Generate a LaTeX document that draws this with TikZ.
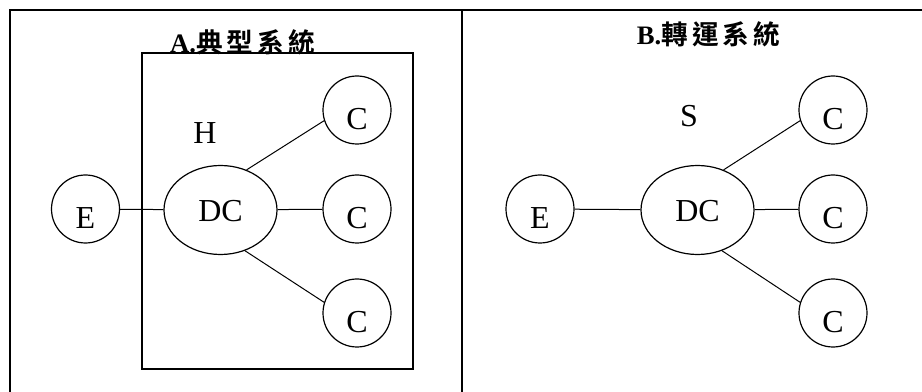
\documentclass[tikz,border=0pt]{standalone}
\usepackage{fontspec}
\setmainfont{Liberation Serif}
\newfontfamily\cjk{Noto Sans CJK TC}[BoldFont={Noto Sans CJK TC Bold},LetterSpace=15]
\usetikzlibrary{shapes.geometric,positioning}
\tikzset{
    site/.style={
           circle,
           draw=black,
           line width=0.9pt,
           minimum size=51pt,
           inner sep=0pt,
           text height=29pt,
           text depth=0pt,
           font=\fontsize{24}{24}\selectfont,
           },
    hub/.style={
           ellipse,
           draw=black,
           line width=0.9pt,
           minimum width=84.75pt,
           minimum height=66.75pt,
           inner sep=0pt,
           text height=16.8pt,
           text depth=0pt,
           font=\fontsize{24}{24}\selectfont,
           },
    tag/.style={anchor=base,inner sep=0pt,font=\fontsize{24}{24}\selectfont},
    heading/.style={anchor=base,inner sep=0pt,font=\fontsize{20}{20}\selectfont\bfseries},
}

\begin{document}
\begin{tikzpicture}[x=0.75pt,y=-0.75pt,line width=0.75pt]
\useasboundingbox (0,0) rectangle (922,392);
\draw[line width=1.5pt] (10,392) -- (10,10) -- (922,10);
\draw[line width=1.5pt] (462,10) -- (462,392);

\draw[line width=1pt] (142,53) rectangle (413,369);
\node[heading](typical) at (242.5,53){A.{\cjk 典型系統}};
\node[tag](host) at (205,144){H};
\node[site](endA) at (85.5,209){E};
\node[hub](dcA) at (220.5,210){DC};
\node[site](custA1) at (357,110){C};
\node[site](custA2) at (357,209){C};
\node[site](custA3) at (357,313){C};
\path (endA) edge (dcA)
      (dcA) edge (custA2)
      (dcA.57) edge (custA1.198)
      (dcA.-59) edge (custA3.162);

\node[heading](transit) at (708.5,45){B.{\cjk 轉運系統}};
\node[tag](switch) at (689,127){S};
\node[site](endB) at (540,209){E};
\node[hub](dcB) at (697.5,210){DC};
\node[site](custB1) at (833,110){C};
\node[site](custB2) at (833,209){C};
\node[site](custB3) at (833,313){C};
\path (endB) edge (dcB)
      (dcB) edge (custB2)
      (dcB.57) edge (custB1.198)
      (dcB.-59) edge (custB3.162);
\end{tikzpicture}
\end{document}
